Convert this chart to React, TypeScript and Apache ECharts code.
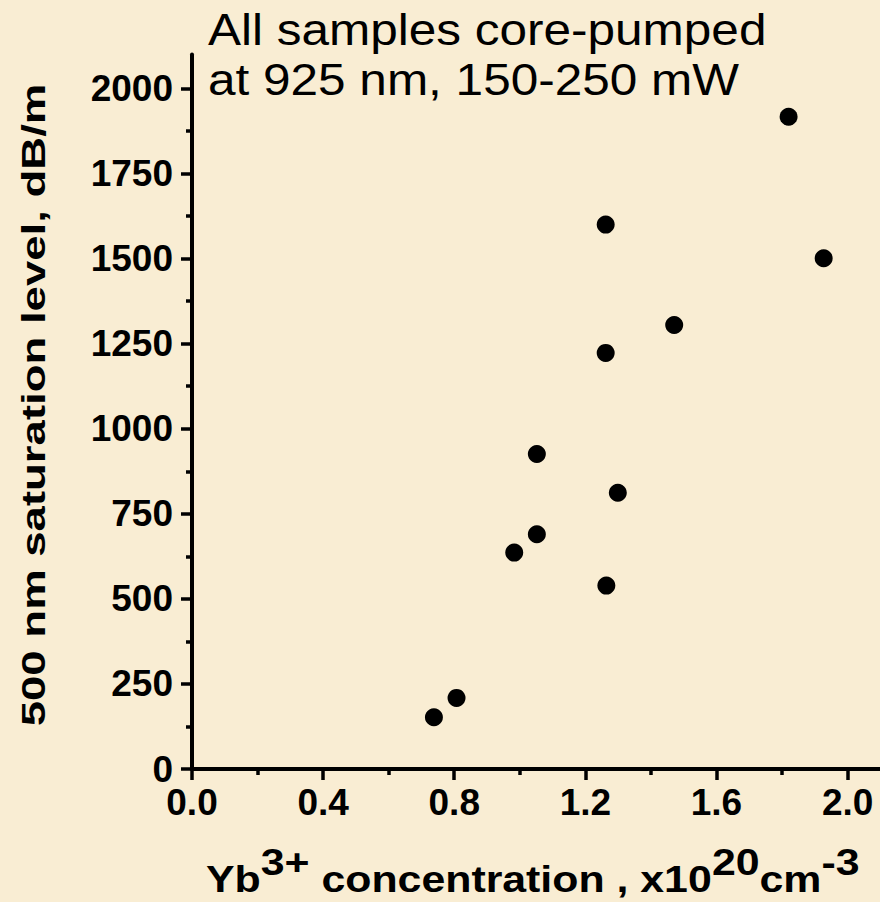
import React, { useEffect, useRef } from 'react';
import * as echarts from 'echarts';

// Yb3+ concentration (x10^20 cm^-3) and 500 nm saturation level (dB/m)
const concentration = [0.738, 0.807, 0.983, 1.052, 1.052, 1.264, 1.299, 1.262, 1.262, 1.471, 1.82, 1.927];
const saturation = [152, 209, 636, 690, 926, 539, 812, 1223, 1600, 1305, 1917, 1501];

const yTickValues = [0, 250, 500, 750, 1000, 1250, 1500, 1750, 2000];
const xTickValues = [0, 0.4, 0.8, 1.2, 1.6, 2.0];

const annotationLines = ['All samples core-pumped', 'at 925 nm, 150-250 mW'];
const yTitle = '500 nm saturation level, dB/m';

const FONT = 'Liberation Sans, Arial, Helvetica, sans-serif';

export default function App() {
  const ref = useRef<HTMLDivElement>(null);

  useEffect(() => {
    document.body.style.margin = '0';
    if (!ref.current) return;
    const chart = echarts.init(ref.current, undefined, { renderer: 'svg' });

    const data = concentration.map((x, i) => [x, saturation[i]]);

    const axisLine = { show: true, onZero: false, lineStyle: { color: '#000', width: 4, opacity: 1 } };
    const tickStyle = { color: '#000', width: 3.5, opacity: 1 };

    chart.setOption({
      animation: false,
      backgroundColor: '#F9EDD3',
      grid: {
        left: 192,
        top: 54.5,
        right: -13.5,
        bottom: 133,
        containLabel: false,
        outerBoundsMode: 'none',
      },
      xAxis: {
        type: 'value',
        min: 0,
        max: 2.14,
        interval: 0.4,
        axisLine,
        axisTick: {
          show: true,
          inside: false,
          length: 11,
          customValues: xTickValues,
          lineStyle: tickStyle,
        },
        minorTick: { show: true, splitNumber: 2, length: 6, lineStyle: tickStyle },
        splitLine: { show: false },
        axisLabel: {
          customValues: xTickValues,
          margin: 15,
          color: '#000',
          fontSize: 37,
          fontWeight: 'bold',
          fontFamily: FONT,
          formatter: (v: number) => v.toFixed(1),
        },
      },
      yAxis: {
        type: 'value',
        min: 0,
        max: 2100,
        interval: 250,
        axisLine,
        axisTick: {
          show: true,
          inside: false,
          length: 11,
          customValues: yTickValues,
          lineStyle: tickStyle,
        },
        minorTick: { show: true, splitNumber: 2, length: 6, lineStyle: tickStyle },
        splitLine: { show: false },
        axisLabel: {
          customValues: yTickValues,
          margin: 19,
          color: '#000',
          fontSize: 37,
          fontWeight: 'bold',
          fontFamily: FONT,
          formatter: (v: number) => String(Math.round(v)),
        },
      },
      series: [
        {
          type: 'scatter',
          data,
          symbol: 'circle',
          symbolSize: 18,
          itemStyle: { color: '#000', opacity: 1 },
          emphasis: { disabled: true },
          clip: false,
        },
      ],
      graphic: [
        {
          type: 'text',
          x: 208,
          y: 29,
          scaleX: 1.1,
          style: {
            text: annotationLines[0],
            fill: '#000',
            font: `45px ${FONT}`,
            align: 'left',
            verticalAlign: 'middle',
          },
        },
        {
          type: 'text',
          x: 208,
          y: 79,
          scaleX: 1.1,
          style: {
            text: annotationLines[1],
            fill: '#000',
            font: `45px ${FONT}`,
            align: 'left',
            verticalAlign: 'middle',
          },
        },
        {
          type: 'text',
          x: 33.5,
          y: 405,
          rotation: Math.PI / 2,
          scaleX: 1.38,
          style: {
            text: yTitle,
            fill: '#000',
            font: `bold 33px ${FONT}`,
            align: 'center',
            verticalAlign: 'middle',
          },
        },
        {
          type: 'text',
          x: 206,
          y: 897,
          scaleX: 1.19,
          style: {
            text: '{b|Yb}{s|3+}{b| concentration , x10}{s|20}{b|cm}{s|-3}',
            align: 'left',
            verticalAlign: 'bottom',
            rich: {
              b: {
                fontSize: 36,
                fontWeight: 'bold',
                fontFamily: FONT,
                fill: '#000',
                lineHeight: 36,
                verticalAlign: 'bottom',
              },
              s: {
                fontSize: 36,
                fontWeight: 'bold',
                fontFamily: FONT,
                fill: '#000',
                lineHeight: 36,
                padding: [0, 0, 17, 0],
                verticalAlign: 'bottom',
              },
            },
          },
        },
      ],
    });

    return () => chart.dispose();
  }, []);

  return <div ref={ref} style={{ width: 880, height: 902 }} />;
}
